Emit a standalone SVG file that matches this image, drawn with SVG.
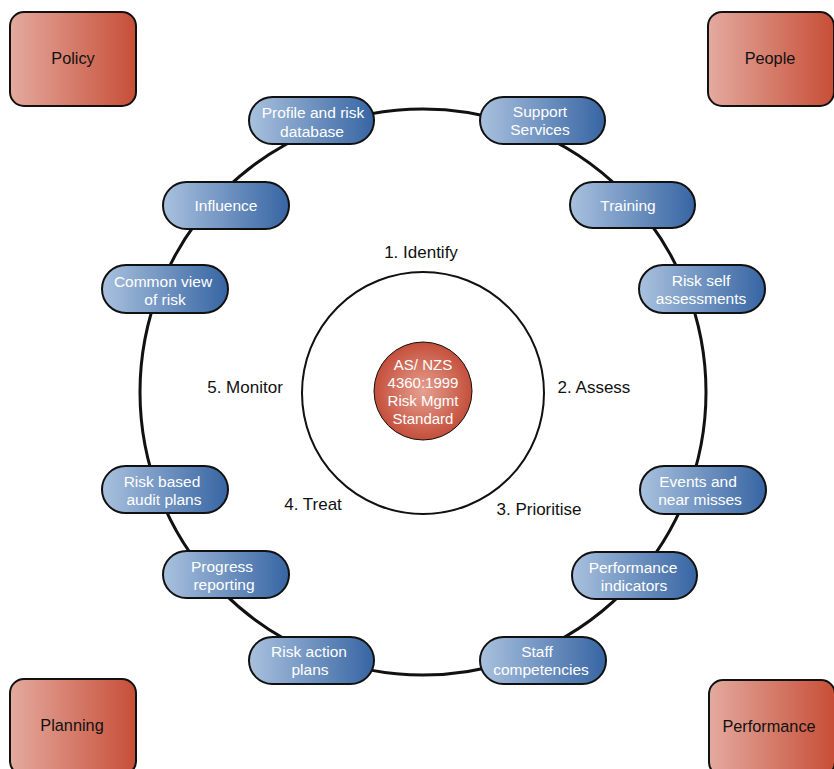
<svg xmlns="http://www.w3.org/2000/svg" width="834" height="769" viewBox="0 0 834 769">
<defs>
<linearGradient id="gBlue" x1="0" y1="0" x2="1" y2="0">
<stop offset="0" stop-color="#a9c1de"/>
<stop offset="1" stop-color="#3765a3"/>
</linearGradient>
<linearGradient id="gRed" x1="0" y1="0" x2="1" y2="0">
<stop offset="0" stop-color="#e4aa9f"/>
<stop offset="1" stop-color="#c74e37"/>
</linearGradient>
<radialGradient id="gCore" cx="0.5" cy="0.5" r="0.5">
<stop offset="0" stop-color="#e6a091"/>
<stop offset="1" stop-color="#c44f3b"/>
</radialGradient>
</defs>
<style>
.pill{fill:url(#gBlue);stroke:#111;stroke-width:2}
.box{fill:url(#gRed);stroke:#111;stroke-width:2}
.pt{font-family:"Liberation Sans",Arial,sans-serif;font-size:15.5px;fill:#fff;text-anchor:middle}
.bt{font-family:"Liberation Sans",Arial,sans-serif;font-size:16.3px;fill:#111;text-anchor:middle}
.st{font-family:"Liberation Sans",Arial,sans-serif;font-size:17px;fill:#111;text-anchor:middle}
.ct{font-family:"Liberation Sans",Arial,sans-serif;font-size:15px;fill:#fff;text-anchor:middle}
</style>
<rect width="834" height="769" fill="#fff"/>
<g id="connectors">
<circle cx="423" cy="392" r="283" fill="none" stroke="#111" stroke-width="3"/>
<circle cx="423" cy="393" r="121" fill="none" stroke="#111" stroke-width="2"/>
</g>
<g id="core">
<circle cx="423" cy="391" r="49" fill="url(#gCore)" stroke="#111" stroke-width="1"/>
<text class="ct" x="423" y="370">AS/ NZS</text>
<text class="ct" x="423" y="388">4360:1999</text>
<text class="ct" x="423" y="406">Risk Mgmt</text>
<text class="ct" x="423" y="424">Standard</text>
</g>
<g id="steps">
<text class="st" x="421" y="258">1. Identify</text>
<text class="st" x="594" y="393">2. Assess</text>
<text class="st" x="539" y="515">3. Prioritise</text>
<text class="st" x="313" y="510">4. Treat</text>
<text class="st" x="245" y="393">5. Monitor</text>
</g>
<g id="policy"><rect class="box" x="10" y="12" width="126" height="94" rx="14"/><text class="bt" x="73" y="64">Policy</text></g>
<g id="people"><rect class="box" x="708" y="12" width="126" height="94" rx="14"/><text class="bt" x="770" y="64">People</text></g>
<g id="planning"><rect class="box" x="10" y="679" width="126" height="96" rx="14"/><text class="bt" x="72" y="731">Planning</text></g>
<g id="performance"><rect class="box" x="709" y="680" width="126" height="96" rx="14"/><text class="bt" x="769" y="732">Performance</text></g>
<g id="profile"><rect class="pill" x="249" y="97" width="125" height="47" rx="23.5"/><text class="pt" x="313" y="118">Profile and risk</text><text class="pt" x="312" y="137">database</text></g>
<g id="support"><rect class="pill" x="480" y="97" width="125" height="47" rx="23.5"/><text class="pt" x="540" y="117">Support</text><text class="pt" x="540" y="135">Services</text></g>
<g id="influence"><rect class="pill" x="163" y="182" width="126" height="47" rx="23.5"/><text class="pt" x="226" y="211">Influence</text></g>
<g id="training"><rect class="pill" x="570" y="182" width="125" height="46" rx="23"/><text class="pt" x="628" y="211">Training</text></g>
<g id="common"><rect class="pill" x="102" y="265" width="126" height="48" rx="24"/><text class="pt" x="163" y="287">Common view</text><text class="pt" x="165" y="305">of risk</text></g>
<g id="selfassess"><rect class="pill" x="639" y="265" width="126" height="48" rx="24"/><text class="pt" x="701" y="286">Risk self</text><text class="pt" x="701" y="304">assessments</text></g>
<g id="audit"><rect class="pill" x="102" y="466" width="126" height="47" rx="23.5"/><text class="pt" x="162" y="487">Risk based</text><text class="pt" x="164" y="505">audit plans</text></g>
<g id="events"><rect class="pill" x="640" y="466" width="126" height="48" rx="24"/><text class="pt" x="698" y="487">Events and</text><text class="pt" x="700" y="505">near misses</text></g>
<g id="progress"><rect class="pill" x="163" y="551" width="126" height="47" rx="23.5"/><text class="pt" x="222" y="572">Progress</text><text class="pt" x="224" y="590">reporting</text></g>
<g id="indicators"><rect class="pill" x="572" y="552" width="125" height="47" rx="23.5"/><text class="pt" x="633" y="573">Performance</text><text class="pt" x="634" y="591">indicators</text></g>
<g id="actionplans"><rect class="pill" x="249" y="637" width="125" height="47" rx="23.5"/><text class="pt" x="309" y="657">Risk action</text><text class="pt" x="310" y="675">plans</text></g>
<g id="competencies"><rect class="pill" x="480" y="637" width="126" height="47" rx="23.5"/><text class="pt" x="537" y="657">Staff</text><text class="pt" x="541" y="675">competencies</text></g>
</svg>
